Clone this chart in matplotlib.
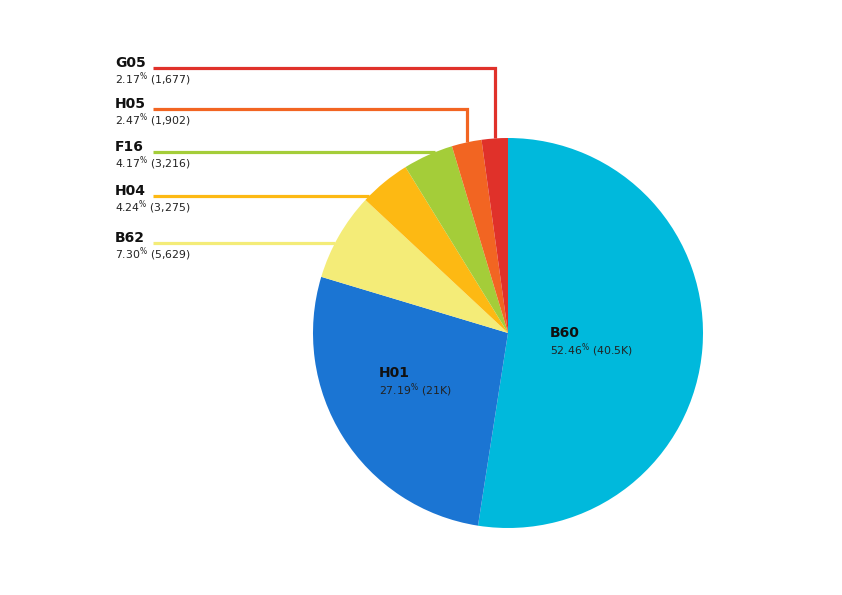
import numpy as np
import matplotlib.pyplot as plt

plt.rcParams["font.family"] = "DejaVu Sans"
plt.rcParams["mathtext.default"] = "regular"

CODES = ["B60", "H01", "B62", "H04", "F16", "H05", "G05"]
PCT = [52.46, 27.19, 7.30, 4.24, 4.17, 2.47, 2.17]
COUNTS = ["40.5K", "21K", "5,629", "3,275", "3,216", "1,902", "1,677"]
COLORS = ["#00b9dc", "#1b75d3", "#f4ec78", "#fdb913", "#a4cd39", "#f26522", "#e0312a"]

# label rows (pixel y, from top) for the small slices on the left
LEFT_CODES = ["G05", "H05", "F16", "H04", "B62"]
LEFT_Y = [68, 109, 152, 196, 243]

W, H = 842, 595
CX, CY, R = 508, 333, 195


def fy(y):
    return H - y


fig = plt.figure(figsize=(W / 100, H / 100), dpi=100)
ax = fig.add_axes([0, 0, 1, 1])

wedges, _ = ax.pie(PCT, colors=COLORS, startangle=90, counterclock=False,
                   center=(CX, fy(CY)), radius=R, frame=True,
                   wedgeprops=dict(linewidth=0))
ax.set_xlim(0, W)
ax.set_ylim(0, H)
ax.set_aspect("equal")
ax.axis("off")

# leader lines + left labels
for code, ly in zip(LEFT_CODES, LEFT_Y):
    i = CODES.index(code)
    w = wedges[i]
    mid = np.deg2rad((w.theta1 + w.theta2) / 2)
    dy = CY - ly
    if dy > R:
        # label sits above the pie: elbow down to the slice edge
        ex = CX + R * np.cos(mid)
        ey = fy(CY) + R * np.sin(mid)
        xs, ys = [153, ex, ex], [fy(ly), fy(ly), ey]
    else:
        ex = CX - np.sqrt(R ** 2 - dy ** 2)
        xs, ys = [153, ex], [fy(ly), fy(ly)]
    ax.plot(xs, ys, color=COLORS[i], lw=2.3, solid_capstyle="butt",
            solid_joinstyle="miter", zorder=1)
    ax.text(115, fy(ly - 5), code, fontsize=10, fontweight="bold",
            ha="left", va="center", color="#111")
    ax.text(115, fy(ly + 11), f"{PCT[i]:.2f}$^{{\\%}}$ ({COUNTS[i]})",
            fontsize=7.8, ha="left", va="center", color="#222")

# in-slice labels
for code, (tx, ty) in zip(["B60", "H01"], [(550, 333), (379, 373)]):
    i = CODES.index(code)
    ax.text(tx, fy(ty), code, fontsize=10, fontweight="bold",
            ha="left", va="center", color="#111")
    ax.text(tx, fy(ty + 17), f"{PCT[i]:.2f}$^{{\\%}}$ ({COUNTS[i]})",
            fontsize=7.8, ha="left", va="center", color="#222")

fig.savefig("out.png", dpi=100, facecolor="white")
